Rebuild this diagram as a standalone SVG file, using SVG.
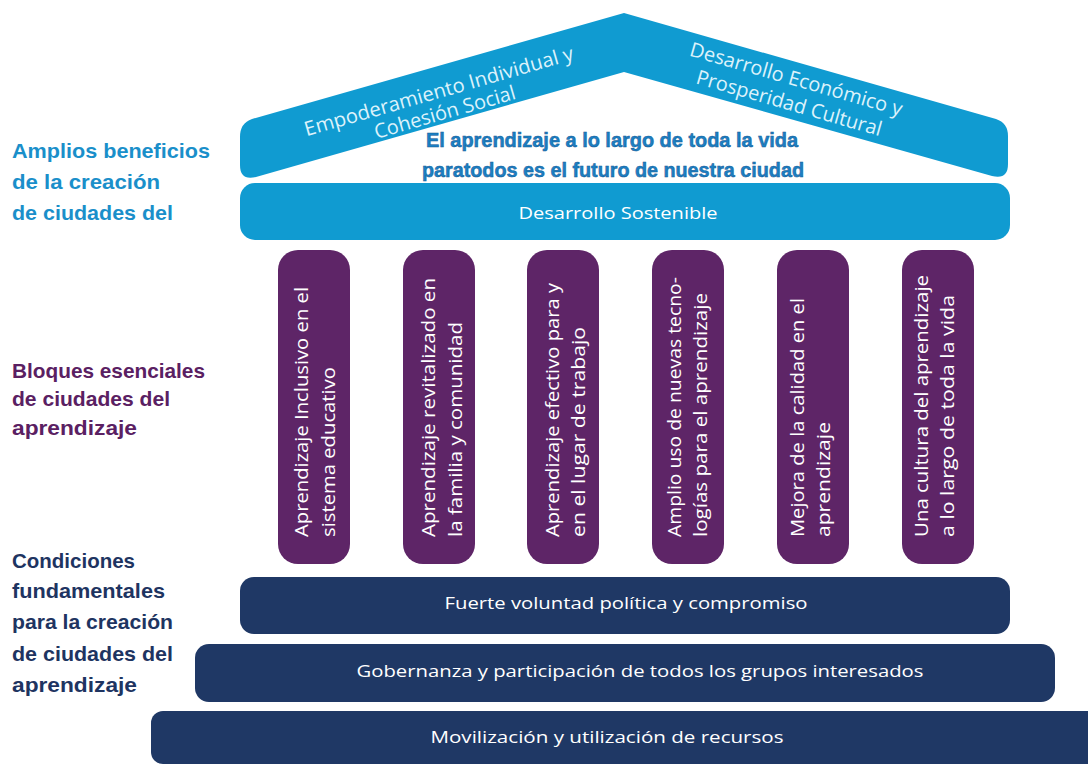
<svg xmlns="http://www.w3.org/2000/svg" width="1088" height="765" viewBox="0 0 1088 765">
<style>
.blue{fill:#109bd1}
.pillar{fill:#5e2567}
.navy{fill:#1f3865}
.lbl{font-family:"Liberation Sans",Arial,sans-serif;font-weight:bold;font-size:21px}
.roof{font-family:"Open Sans","Liberation Sans",sans-serif;font-size:20px;fill:#dcf2fb}
.ptxt{font-family:"Open Sans","Liberation Sans",sans-serif;font-size:17.5px;fill:#ffffff}
.btxt{font-family:"Open Sans","Liberation Sans",sans-serif;font-size:17px;fill:#ffffff;text-anchor:middle}
.slogan{font-family:"Liberation Sans",Arial,sans-serif;font-weight:bold;font-size:20px;fill:#1b80c3;stroke:#165a96;stroke-width:0.5;text-anchor:middle}
</style>
<rect width="1088" height="765" fill="#ffffff"/>

<g id="labels">
  <g id="label-beneficios" fill="#1a8fca" class="lbl">
    <text x="12" y="158" textLength="198" lengthAdjust="spacingAndGlyphs">Amplios beneficios</text>
    <text x="12" y="189" textLength="148" lengthAdjust="spacingAndGlyphs">de la creación</text>
    <text x="12" y="220" textLength="161" lengthAdjust="spacingAndGlyphs">de ciudades del</text>
  </g>
  <g id="label-bloques" fill="#5a2062" class="lbl">
    <text x="12" y="378" textLength="193" lengthAdjust="spacingAndGlyphs">Bloques esenciales</text>
    <text x="12" y="406" textLength="158" lengthAdjust="spacingAndGlyphs">de ciudades del</text>
    <text x="12" y="435" textLength="125" lengthAdjust="spacingAndGlyphs">aprendizaje</text>
  </g>
  <g id="label-condiciones" fill="#1e3461" class="lbl">
    <text x="12" y="568" textLength="123" lengthAdjust="spacingAndGlyphs">Condiciones</text>
    <text x="12" y="598" textLength="153" lengthAdjust="spacingAndGlyphs">fundamentales</text>
    <text x="12" y="629" textLength="161" lengthAdjust="spacingAndGlyphs">para la creación</text>
    <text x="12" y="661" textLength="161" lengthAdjust="spacingAndGlyphs">de ciudades del</text>
    <text x="12" y="692" textLength="125" lengthAdjust="spacingAndGlyphs">aprendizaje</text>
  </g>
</g>

<g id="roof">
  <path class="blue" d="M624 13 L996 119 Q1008 123 1008 136 L1008 164 Q1008 180 992 176 L624 72 L256 177 Q240 181 240 165 L240 137 Q240 123 252 119 Z"/>
  <g transform="translate(439,92) rotate(-16)">
    <text class="roof" x="0" y="6" text-anchor="middle" textLength="279" lengthAdjust="spacingAndGlyphs">Empoderamiento Individual y</text>
  </g>
  <g transform="translate(445,113) rotate(-16)">
    <text class="roof" x="0" y="6" text-anchor="middle" textLength="146" lengthAdjust="spacingAndGlyphs">Cohesión Social</text>
  </g>
  <g transform="translate(796,80) rotate(16)">
    <text class="roof" x="0" y="6" text-anchor="middle" textLength="220" lengthAdjust="spacingAndGlyphs">Desarrollo Económico y</text>
  </g>
  <g transform="translate(789,104) rotate(16)">
    <text class="roof" x="0" y="6" text-anchor="middle" textLength="192" lengthAdjust="spacingAndGlyphs">Prosperidad Cultural</text>
  </g>
</g>

<g id="slogan">
  <text class="slogan" x="612" y="147" textLength="372" lengthAdjust="spacingAndGlyphs">El aprendizaje a lo largo de toda la vida</text>
  <text class="slogan" x="613" y="177" textLength="382" lengthAdjust="spacingAndGlyphs">paratodos es el futuro de nuestra ciudad</text>
</g>

<g id="desarrollo-sostenible">
  <rect class="blue" x="240" y="183" width="770" height="57" rx="15"/>
  <text class="btxt" x="618" y="219" textLength="199" lengthAdjust="spacingAndGlyphs">Desarrollo Sostenible</text>
</g>

<g id="pillar-1">
  <rect class="pillar" x="278" y="250" width="72" height="314" rx="20"/>
  <text class="ptxt" transform="translate(308,537) rotate(-90)" textLength="250" lengthAdjust="spacingAndGlyphs">Aprendizaje Inclusivo en el</text>
  <text class="ptxt" transform="translate(335,537) rotate(-90)" textLength="170" lengthAdjust="spacingAndGlyphs">sistema educativo</text>
</g>
<g id="pillar-2">
  <rect class="pillar" x="403" y="250" width="72" height="314" rx="20"/>
  <text class="ptxt" transform="translate(435,537) rotate(-90)" textLength="259" lengthAdjust="spacingAndGlyphs">Aprendizaje revitalizado en</text>
  <text class="ptxt" transform="translate(462,537) rotate(-90)" textLength="215" lengthAdjust="spacingAndGlyphs">la familia y comunidad</text>
</g>
<g id="pillar-3">
  <rect class="pillar" x="527" y="250" width="72" height="314" rx="20"/>
  <text class="ptxt" transform="translate(559,537) rotate(-90)" textLength="254" lengthAdjust="spacingAndGlyphs">Aprendizaje efectivo para y</text>
  <text class="ptxt" transform="translate(585,537) rotate(-90)" textLength="210" lengthAdjust="spacingAndGlyphs">en el lugar de trabajo</text>
</g>
<g id="pillar-4">
  <rect class="pillar" x="652" y="250" width="72" height="314" rx="20"/>
  <text class="ptxt" transform="translate(681,537) rotate(-90)" textLength="260" lengthAdjust="spacingAndGlyphs">Amplio uso de nuevas tecno-</text>
  <text class="ptxt" transform="translate(707,537) rotate(-90)" textLength="244" lengthAdjust="spacingAndGlyphs">logías para el aprendizaje</text>
</g>
<g id="pillar-5">
  <rect class="pillar" x="777" y="250" width="72" height="314" rx="20"/>
  <text class="ptxt" transform="translate(804,537) rotate(-90)" textLength="239" lengthAdjust="spacingAndGlyphs">Mejora de la calidad en el</text>
  <text class="ptxt" transform="translate(830,537) rotate(-90)" textLength="115" lengthAdjust="spacingAndGlyphs">aprendizaje</text>
</g>
<g id="pillar-6">
  <rect class="pillar" x="902" y="250" width="72" height="314" rx="20"/>
  <text class="ptxt" transform="translate(928,537) rotate(-90)" textLength="262" lengthAdjust="spacingAndGlyphs">Una cultura del aprendizaje</text>
  <text class="ptxt" transform="translate(954,537) rotate(-90)" textLength="242" lengthAdjust="spacingAndGlyphs">a lo largo de toda la vida</text>
</g>

<g id="base-1">
  <rect class="navy" x="240" y="577" width="770" height="57" rx="14"/>
  <text class="btxt" x="626" y="609" textLength="363" lengthAdjust="spacingAndGlyphs">Fuerte voluntad política y compromiso</text>
</g>
<g id="base-2">
  <rect class="navy" x="195" y="644" width="860" height="58" rx="14"/>
  <text class="btxt" x="640" y="677" textLength="567" lengthAdjust="spacingAndGlyphs">Gobernanza y participación de todos los grupos interesados</text>
</g>
<g id="base-3">
  <rect class="navy" x="151" y="711" width="960" height="53" rx="12"/>
  <text class="btxt" x="607" y="743" textLength="353" lengthAdjust="spacingAndGlyphs">Movilización y utilización de recursos</text>
</g>

<g id="connectors"></g>
</svg>
